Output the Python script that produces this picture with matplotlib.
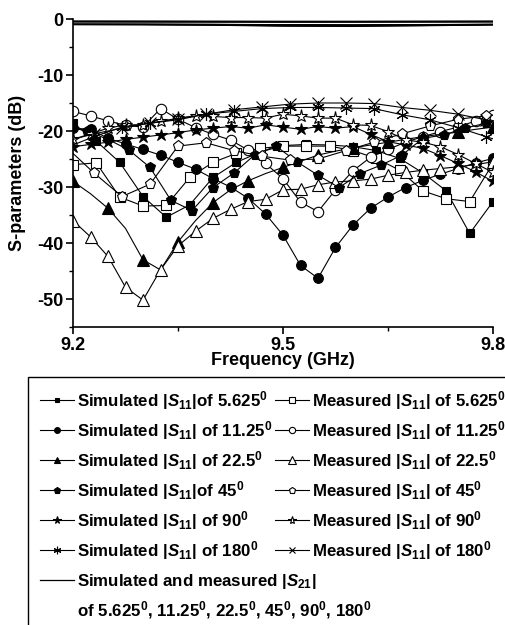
import matplotlib
matplotlib.use("Agg")
import matplotlib.pyplot as plt
from matplotlib.lines import Line2D
from matplotlib.transforms import IdentityTransform

plt.rcParams['font.family'] = ['Liberation Sans', 'DejaVu Sans']
plt.rcParams['font.weight'] = 'bold'
plt.rcParams['axes.unicode_minus'] = False
plt.rcParams['mathtext.fontset'] = 'custom'
plt.rcParams['mathtext.rm'] = 'Liberation Sans:bold'
plt.rcParams['mathtext.bf'] = 'Liberation Sans:bold'
plt.rcParams['mathtext.it'] = 'Liberation Sans:italic:bold'

# ---------------- data ----------------
f025 = [9.2, 9.225, 9.25, 9.275, 9.3, 9.325, 9.35, 9.375, 9.4, 9.425, 9.45, 9.475,
        9.5, 9.525, 9.55, 9.575, 9.6, 9.625, 9.65, 9.675, 9.7, 9.725, 9.75, 9.775, 9.8]
f30 = [9.2, 9.2333, 9.2667, 9.3, 9.3333, 9.3667, 9.4, 9.4333, 9.4667, 9.5, 9.5333,
       9.5667, 9.6, 9.6333, 9.6667, 9.7, 9.7333, 9.7667, 9.8]
f45s = [9.2, 9.22, 9.25, 9.28, 9.31, 9.34, 9.37, 9.40, 9.43, 9.46, 9.49, 9.52, 9.55,
        9.58, 9.61, 9.64, 9.67, 9.70, 9.73, 9.76, 9.79, 9.8]
f04 = [9.2, 9.23, 9.27, 9.31, 9.35, 9.39, 9.43, 9.47, 9.51, 9.55, 9.59, 9.63, 9.67,
       9.71, 9.75, 9.79, 9.8]
f21 = [9.2, 9.3, 9.4, 9.5, 9.6, 9.7, 9.8]

sim5625 = [-18.6, -21.8, -25.6, -31.7, -35.4, -33.2, -28.3, -25.6, -23.8, -22.6, -22.4,
           -22.5, -22.8, -23.5, -24.9, -27.5, -30.7, -38.3, -32.6]
meas5625 = [-26.0, -25.7, -31.8, -33.4, -33.3, -28.3, -25.6, -24.0, -23.1, -22.7, -22.7,
            -22.7, -23.5, -24.9, -27.0, -30.7, -32.1, -32.6, -25.8]
sim1125 = [-19.5, -19.7, -21.3, -22.3, -23.3, -24.3, -25.6, -26.8, -28.5, -30.0, -32.0,
           -34.8, -38.6, -44.0, -46.3, -40.8, -36.8, -33.8, -31.8, -30.1, -28.8, -27.7,
           -26.7, -25.7, -24.9]
meas1125 = [-16.5, -17.3, -18.2, -19.0, -19.3, -16.0, -17.9, -19.4, -20.6, -21.6, -23.4,
            -25.8, -28.5, -32.7, -34.4, -30.5, -27.1, -24.7, -23.3, -22.0, -21.0, -20.1,
            -19.3, -18.2, -17.1]
sim225 = [-29.0, -31.2, -33.8, -37.4, -43.0, -44.8, -39.8, -36.0, -32.8, -30.5, -28.9,
          -27.6, -26.5, -25.4, -24.3, -23.6, -23.0, -22.5, -22.0, -21.5, -21.0, -20.6,
          -20.2, -19.7, -19.3]
meas225 = [-36.0, -38.9, -42.4, -47.9, -50.2, -44.8, -40.5, -37.9, -35.6, -34.0, -32.6,
           -32.2, -30.5, -30.4, -29.6, -29.1, -28.9, -28.6, -27.9, -27.4, -27.0, -26.7,
           -26.4, -26.0, -25.5]
sim45 = [-19.5, -20.0, -21.5, -23.4, -26.5, -32.4, -34.2, -30.1, -27.5, -24.2, -22.7,
         -25.5, -27.9, -30.1, -27.6, -26.1, -24.3, -21.3, -20.7, -19.5, -18.6, -18.4]
meas45 = [-24.0, -27.5, -31.7, -29.5, -22.7, -22.1, -23.5, -24.5, -25.2, -25.0, -23.5,
          -22.0, -20.5, -19.1, -17.9, -17.3, -17.2]
sim90 = [-22.8, -22.4, -22.0, -21.5, -21.1, -20.7, -20.3, -19.8, -19.5, -19.2, -19.5,
         -18.9, -19.3, -19.7, -19.2, -19.5, -19.2, -20.6, -21.9, -22.5, -23.1, -24.4,
         -25.8, -27.3, -29.0]
meas90 = [-21.5, -20.5, -19.5, -18.9, -18.9, -18.3, -17.7, -17.3, -17.4, -17.6, -17.6,
          -17.7, -17.0, -17.3, -17.7, -17.7, -18.9, -19.0, -20.1, -21.6, -22.0, -22.8,
          -24.2, -25.8, -27.4]
sim180 = [-22.5, -21.0, -19.3, -18.6, -18.0, -17.0, -16.5, -16.0, -15.8, -15.8, -15.9,
          -16.0, -17.1, -18.0, -19.4, -21.0, -21.4]
meas180 = [-21.5, -20.5, -19.5, -18.6, -17.8, -17.0, -16.2, -15.7, -15.2, -15.0, -15.0,
           -15.1, -15.8, -16.3, -17.0, -18.0, -18.3]

sim21 = [[-0.42, -0.43, -0.44, -0.45, -0.45, -0.44, -0.43],
         [-0.45, -0.46, -0.47, -0.48, -0.47, -0.46, -0.45],
         [-0.40, -0.40, -0.42, -0.43, -0.43, -0.42, -0.41],
         [-0.48, -0.49, -0.50, -0.52, -0.51, -0.50, -0.48],
         [-0.44, -0.45, -0.45, -0.46, -0.46, -0.45, -0.44],
         [-0.50, -0.51, -0.52, -0.54, -0.53, -0.52, -0.50]]
meas21 = [[-0.95, -0.96, -1.00, -1.08, -1.12, -1.05, -0.98],
          [-0.98, -1.00, -1.05, -1.20, -1.25, -1.15, -1.02],
          [-0.92, -0.94, -0.96, -1.02, -1.05, -1.00, -0.95],
          [-1.00, -1.02, -1.10, -1.28, -1.32, -1.20, -1.05],
          [-0.96, -0.98, -1.02, -1.12, -1.16, -1.08, -1.00],
          [-0.94, -0.95, -0.98, -1.05, -1.10, -1.03, -0.97]]

angles = ["5.625", "11.25", "22.5", "45", "90", "180"]
sim_labels = [r"Simulated |$S_{11}$|of 5.625$^0$",
              r"Simulated |$S_{11}$| of 11.25$^0$",
              r"Simulated |$S_{11}$| of 22.5$^0$",
              r"Simulated |$S_{11}$|of 45$^0$",
              r"Simulated |$S_{11}$| of 90$^0$",
              r"Simulated |$S_{11}$| of 180$^0$"]
meas_labels = [r"Measured |$S_{11}$| of %s$^0$" % a for a in angles]
s21_label1 = r"Simulated and measured |$S_{21}$|"
s21_label2 = r"of 5.625$^0$, 11.25$^0$, 22.5$^0$, 45$^0$, 90$^0$, 180$^0$"

# ---------------- figure ----------------
W, H = 506, 625
fig = plt.figure(figsize=(W / 100, H / 100), dpi=100)
ax = fig.add_axes([73 / W, 1 - 327 / H, 420 / W, 308 / H])

lw = 0.8
k = dict(color='black', lw=lw, mec='black', mew=0.8)
lines_s21 = []
for s in sim21:
    l, = ax.plot(f21, s, color='black', lw=0.9)
    lines_s21.append(l)
for s in meas21:
    ax.plot(f21, s, color='black', lw=0.9)

h_sim = []
h_meas = []
l, = ax.plot(f30, sim5625, marker='s', ms=6, mfc='black', **k); h_sim.append(l)
l, = ax.plot(f30, meas5625, marker='s', ms=6.5, mfc='white', **k); h_meas.append(l)
l, = ax.plot(f025, sim1125, marker='o', ms=7, mfc='black', **k); h_sim.append(l)
l, = ax.plot(f025, meas1125, marker='o', ms=7.5, mfc='white', **k); h_meas.append(l)
l, = ax.plot(f025, sim225, marker='^', ms=8, mfc='black', markevery=2, **k); h_sim.append(l)
l, = ax.plot(f025, meas225, marker='^', ms=8.5, mfc='white', **k); h_meas.append(l)
l, = ax.plot(f45s, sim45, marker='p', ms=7.5, mfc='black', markevery=slice(1, -1), **k); h_sim.append(l)
l, = ax.plot(f04, meas45, marker='p', ms=8, mfc='white', markevery=slice(1, -1), **k); h_meas.append(l)
l, = ax.plot(f025, sim90, marker='*', ms=9, mfc='black', **k); h_sim.append(l)
l, = ax.plot(f025, meas90, marker='*', ms=9.5, mfc='white', **k); h_meas.append(l)
l, = ax.plot(f04, sim180, marker=(6, 2, 0), ms=9, mfc='black', markevery=slice(1, -1), **k); h_sim.append(l)
l, = ax.plot(f04, meas180, marker='x', ms=8, mfc='black', markevery=slice(1, -1), **k); h_meas.append(l)

ax.set_xlim(9.2, 9.8)
ax.set_ylim(-55, 0)
ax.set_xticks([9.2, 9.5, 9.8])
ax.set_xticklabels(["9.2", "9.5", "9.8"])
ax.set_xticks([9.35, 9.65], minor=True)
ax.set_yticks([0, -10, -20, -30, -40, -50])
ax.set_yticks([-5, -15, -25, -35, -45, -55], minor=True)
for s in ['top', 'right']:
    ax.spines[s].set_visible(False)
for s in ['left', 'bottom']:
    ax.spines[s].set_linewidth(1.2)
ax.tick_params(which='major', direction='out', length=5, width=1.2, labelsize=13, pad=2)
ax.tick_params(which='minor', direction='out', length=3, width=1.0)
for t in ax.get_xticklabels() + ax.get_yticklabels():
    t.set_fontweight('bold')
ax.set_xlabel("Frequency (GHz)", fontsize=13, fontweight='bold', labelpad=-1)
ax.set_ylabel("S-parameters (dB)", fontsize=13, fontweight='bold', labelpad=8)

# legend: 2 columns x 8 rows; rows 7-8 of column 1 get their text afterwards
ghost = r"|$S_{11}$|$^0$"
blank1 = Line2D([], [], linestyle='none')
blank2 = Line2D([], [], linestyle='none')
blank3 = Line2D([], [], linestyle='none')
handles = h_sim + [lines_s21[0], blank1] + h_meas + [blank2, blank3]
labels = sim_labels + [ghost, ghost] + meas_labels + [ghost, ghost]
fs = 12.2
leg = fig.legend(handles, labels, ncol=2, loc='upper left',
                 bbox_to_anchor=(28 / W, 1 - 377 / H), bbox_transform=fig.transFigure,
                 frameon=True, fancybox=False, edgecolor='black', framealpha=1,
                 fontsize=fs, handlelength=2.0, handletextpad=0.2, columnspacing=0.15,
                 labelspacing=0.42, borderpad=0.7, borderaxespad=0, markerscale=0.6)
leg.get_frame().set_linewidth(1.0)
texts = leg.get_texts()
for i in (6, 7, 14, 15):
    texts[i].set_alpha(0)

fig.canvas.draw()
for i, s in ((6, s21_label1), (7, s21_label2)):
    t = texts[i]
    xd, yd = t.get_transform().transform(t.get_position())
    fig.text(xd, yd, s, transform=IdentityTransform(), fontsize=fs,
             fontweight='bold', ha='left', va='baseline', zorder=20)

fig.savefig("out.png", dpi=100)
